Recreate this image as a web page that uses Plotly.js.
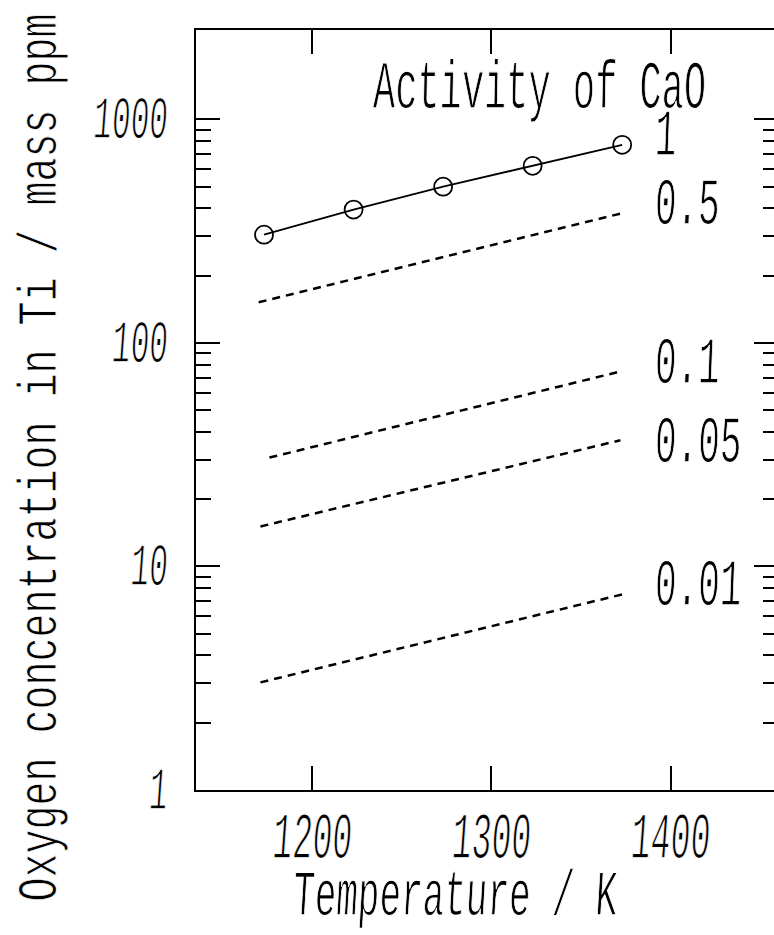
<!DOCTYPE html>
<html>
<head>
<meta charset="utf-8">
<script src="https://cdn.plot.ly/plotly-3.0.1.min.js"></script>
<style>
html, body { margin: 0; padding: 0; overflow: hidden; background: #fff; }
#chart { width: 800px; height: 935px; }
</style>
</head>
<body>
<div id="chart"></div>
<script>
// ---- data ----
const tempMeasured = [1173, 1223, 1273, 1323, 1373];
const oxygenAct1   = [305, 395, 500, 620, 770];

const tempAct05 = [1170, 1372];
const oxyAct05  = [152, 379];
const tempAct01 = [1176, 1372];
const oxyAct01  = [30.7, 74.5];
const tempAct005 = [1171, 1372];
const oxyAct005  = [15.1, 36.7];
const tempAct001 = [1171, 1373];
const oxyAct001  = [3.03, 7.5];

const activityLabels = ['1', '0.5', '0.1', '0.05', '0.01'];
const xTickVals = [1200, 1300, 1400];
const yTickVals = [1, 10, 100, 1000];
const yTickText = ['1', '10', '100', '1000'];
const minorMultipliers = [2, 3, 4, 5, 6, 7, 8, 9];
const minorDecades = [1, 10, 100];
const xTitle = 'Temperature / K';
const yTitle = 'Oxygen concentration in Ti / mass ppm';
const legendTitle = 'Activity of CaO';

const minorVals = [];
minorDecades.forEach(d => minorMultipliers.forEach(m => minorVals.push(d * m)));

const FONT = 'Liberation Mono, DejaVu Sans Mono, monospace';
const dashStyle = {color: 'black', width: 2.5, dash: '8px,6px'};

const traces = [
  {x: tempMeasured, y: oxygenAct1, mode: 'lines+markers', name: activityLabels[0],
   line: {color: 'black', width: 1.8},
   marker: {symbol: 'circle-open', size: 18, color: 'black', line: {width: 1.8, color: 'black'}}},
  {x: tempAct05, y: oxyAct05, mode: 'lines', name: activityLabels[1], line: dashStyle},
  {x: tempAct01, y: oxyAct01, mode: 'lines', name: activityLabels[2], line: dashStyle},
  {x: tempAct005, y: oxyAct005, mode: 'lines', name: activityLabels[3], line: dashStyle},
  {x: tempAct001, y: oxyAct001, mode: 'lines', name: activityLabels[4], line: dashStyle}
];

const labelY = [0.858, 0.768, 0.559, 0.455, 0.266];
const annotations = activityLabels.map((t, i) => ({
  text: t, xref: 'paper', yref: 'paper', x: 0.785, y: labelY[i],
  xanchor: 'left', yanchor: 'middle', showarrow: false,
  font: {family: FONT, size: 36, color: 'black'}
}));
annotations.push({
  text: legendTitle, xref: 'paper', yref: 'paper', x: 0.591, y: 0.921,
  xanchor: 'center', yanchor: 'middle', showarrow: false,
  font: {family: FONT, size: 37, color: 'black'}
});
// axis titles, placed like the reference
annotations.push({
  text: xTitle, xref: 'paper', yref: 'paper', x: 0.445, y: -0.141,
  xanchor: 'center', yanchor: 'middle', showarrow: false,
  font: {family: FONT, size: 36, color: 'black'}
});
annotations.push({
  text: yTitle, xref: 'paper', yref: 'paper', x: -0.265, y: 0.437, textangle: -90,
  xanchor: 'center', yanchor: 'middle', showarrow: false,
  font: {family: FONT, size: 40, color: 'black'}
});

const layout = {
  width: 800, height: 935,
  margin: {l: 196, r: 22, t: 30, b: 145},
  paper_bgcolor: 'white', plot_bgcolor: 'white',
  showlegend: false,
  font: {family: FONT, color: 'black'},
  xaxis: {
    range: [1135, 1460], tickvals: xTickVals, ticks: 'inside', ticklen: 24, tickwidth: 2,
    tickcolor: 'black', showline: true, linewidth: 2, linecolor: 'black', mirror: 'ticks',
    showgrid: false, zeroline: false, ticklabelstandoff: 18,
    tickfont: {family: FONT, size: 33, color: 'black'}
  },
  yaxis: {
    type: 'log', range: [0, 3.40], tickvals: yTickVals, ticktext: yTickText,
    ticks: 'inside', ticklen: 24, tickwidth: 2, tickcolor: 'black',
    showline: true, linewidth: 2, linecolor: 'black', mirror: 'ticks',
    showgrid: false, zeroline: false, ticklabelstandoff: 20,
    minor: {tickvals: minorVals, ticks: 'inside', ticklen: 15, tickwidth: 2, tickcolor: 'black', showgrid: false},
    tickfont: {family: FONT, size: 31, color: 'black'}
  },
  annotations: annotations
};

// the reference uses a tall, narrow pen-plotter lettering: stretch glyphs vertically
function squeezeText(el, k, skew) {
  const bb = el.getBBox();
  const cx = bb.x + bb.width / 2, cy = bb.y + bb.height / 2;
  const prev = el.getAttribute('transform') || '';
  el.setAttribute('transform', prev + ' translate(' + cx + ',' + cy + ') scale(1,' + k + ') skewX(' + skew + ') translate(' + (-cx) + ',' + (-cy) + ')');
  el.style.stroke = 'white';
  el.style.strokeWidth = '0.7px';
}

function stretch(gd) {
  gd.querySelectorAll('.xtick text').forEach(el => squeezeText(el, 2.0, -8));
  gd.querySelectorAll('.ytick text').forEach(el => squeezeText(el, 1.95, -8));
  const annK = [1.85, 1.85, 1.85, 1.85, 1.85, 1.85, 1.8, 1.4];
  const annSkew = [-4, -4, -4, -4, -4, -2, -6, 0];
  gd.querySelectorAll('.annotation').forEach(g => {
    const i = +g.getAttribute('data-index');
    const t = g.querySelector('.annotation-text');
    if (t) squeezeText(t, annK[i], annSkew[i]);
  });
}

Plotly.newPlot('chart', traces, layout, {staticPlot: true, displayModeBar: false}).then(stretch);
</script>
</body>
</html>
